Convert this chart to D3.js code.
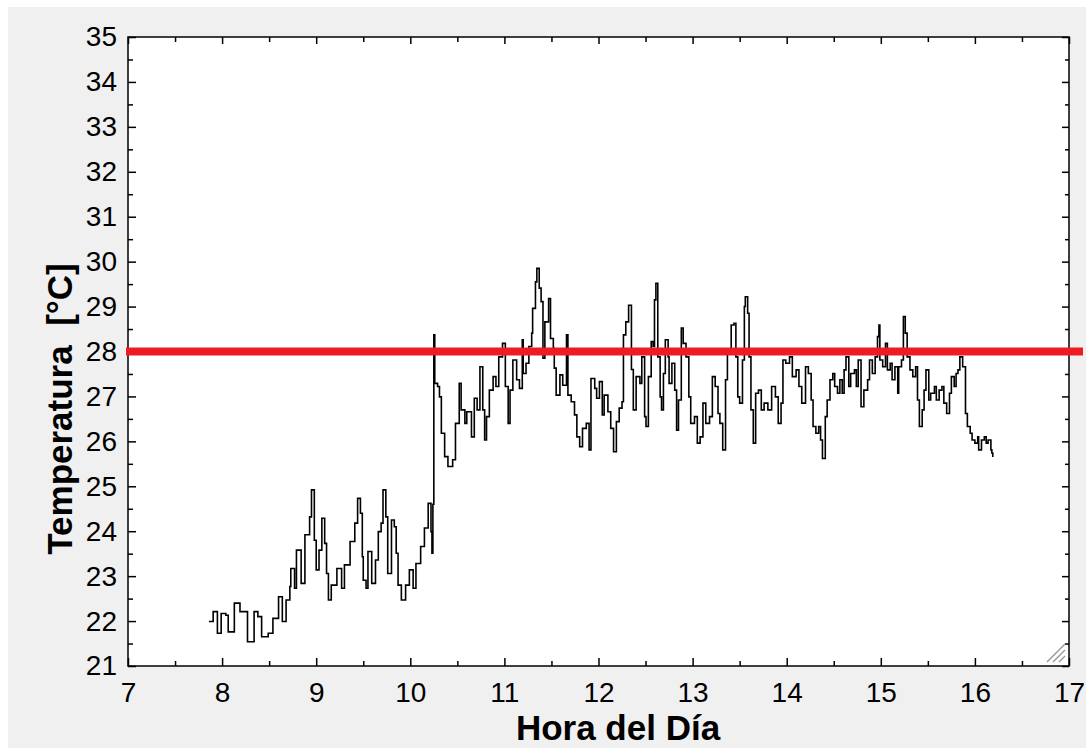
<!DOCTYPE html>
<html>
<head>
<meta charset="utf-8">
<script src="https://cdn.jsdelivr.net/npm/d3@7"></script>
<style>
  body { margin: 0; background: #ffffff; }
  text { font-family: "Liberation Sans", Arial, sans-serif; fill: #000; }
  .axis-title { font-weight: bold; font-size: 35px; white-space: pre; }
  .tick text { font-size: 28px; }
</style>
</head>
<body>
<div class="chart"></div>
<script>
// hour of day (decimal) and temperature readings
var hours = [
  7.86, 7.905, 7.95, 7.99, 8.04, 8.065, 8.13, 8.19, 8.27, 8.34, 8.38, 8.42, 8.49, 8.54, 8.60, 8.64,
  8.68, 8.72, 8.73, 8.77, 8.79, 8.84, 8.88, 8.93, 8.95, 8.98, 9.00, 9.03, 9.06, 9.09, 9.11, 9.13,
  9.16, 9.22, 9.27, 9.30, 9.36, 9.41, 9.44, 9.47, 9.49, 9.50, 9.53, 9.55, 9.59, 9.63, 9.66, 9.69,
  9.71, 9.74, 9.76, 9.80, 9.83, 9.85, 9.87, 9.905, 9.95, 9.99, 10.03, 10.06, 10.11, 10.15, 10.19,
  10.22, 10.23, 10.24, 10.25, 10.26, 10.29, 10.31, 10.33, 10.365, 10.40, 10.45, 10.48, 10.52, 10.54,
  10.58, 10.60, 10.65, 10.68, 10.71, 10.74, 10.77, 10.79, 10.81, 10.84, 10.88, 10.91, 10.94, 10.98,
  11.01, 11.04, 11.06, 11.09, 11.13, 11.16, 11.19, 11.20, 11.23, 11.26, 11.29, 11.30, 11.33, 11.345,
  11.37, 11.39, 11.41, 11.43, 11.47, 11.49, 11.52, 11.53, 11.55, 11.59, 11.62, 11.66, 11.675, 11.71,
  11.745, 11.77, 11.80, 11.83, 11.87, 11.90, 11.92, 11.96, 11.98, 12.01, 12.04, 12.06, 12.10, 12.13,
  12.16, 12.19, 12.22, 12.25, 12.265, 12.29, 12.32, 12.35, 12.37, 12.40, 12.44, 12.46, 12.49, 12.505,
  12.53, 12.56, 12.58, 12.595, 12.61, 12.63, 12.655, 12.67, 12.69, 12.71, 12.74, 12.75, 12.78, 12.81,
  12.83, 12.85, 12.88, 12.90, 12.93, 12.96, 12.98, 13.02, 13.05, 13.08, 13.11, 13.14, 13.18, 13.21,
  13.24, 13.27, 13.29, 13.32, 13.35, 13.37, 13.41, 13.44, 13.46, 13.48, 13.50, 13.53, 13.55, 13.56,
  13.585, 13.60, 13.62, 13.645, 13.67, 13.70, 13.73, 13.76, 13.80, 13.84, 13.88, 13.91, 13.94, 13.96,
  13.99, 14.03, 14.06, 14.10, 14.13, 14.16, 14.20, 14.23, 14.26, 14.28, 14.31, 14.34, 14.36, 14.38,
  14.41, 14.43, 14.46, 14.49, 14.51, 14.54, 14.565, 14.59, 14.61, 14.63, 14.66, 14.68, 14.72, 14.74,
  14.76, 14.79, 14.82, 14.86, 14.88, 14.91, 14.94, 14.965, 14.98, 14.99, 15.02, 15.05, 15.07, 15.10,
  15.12, 15.15, 15.18, 15.19, 15.22, 15.24, 15.26, 15.28, 15.31, 15.34, 15.37, 15.39, 15.41, 15.44,
  15.46, 15.48, 15.51, 15.53, 15.57, 15.59, 15.62, 15.65, 15.67, 15.70, 15.73, 15.75, 15.78, 15.80,
  15.82, 15.84, 15.87, 15.90, 15.92, 15.95, 15.97, 16.00, 16.03, 16.04, 16.07, 16.10, 16.12, 16.14,
  16.17, 16.18, 16.19
];

var temps = [
  21.99, 22.21, 21.73, 22.17, 22.13, 21.76, 22.40, 22.21, 21.54, 22.21, 22.10, 21.65, 21.73, 22.06, 22.54, 21.99,
  22.47, 22.77, 23.17, 22.73, 23.58, 22.84, 23.92, 24.32, 24.92, 23.80, 23.14, 23.58, 24.29, 23.73, 23.06, 22.47,
  22.80, 23.17, 22.73, 23.25, 23.77, 24.18, 24.73, 24.40, 23.43, 22.91, 22.73, 23.55, 22.84, 23.36, 23.99, 24.18,
  24.92, 24.32, 23.06, 24.25, 24.10, 23.51, 22.80, 22.47, 22.80, 23.14, 22.73, 23.28, 23.66, 24.07, 24.62,
  23.99, 23.51, 24.60, 28.37, 27.29, 27.22, 26.99, 26.18, 25.66, 25.44, 25.59, 26.40, 27.29, 26.70,
  26.40, 26.66, 26.10, 26.96, 26.70, 27.66, 26.70, 26.03, 26.55, 27.14, 27.44, 27.22, 27.88, 28.18,
  27.22, 26.40, 27.14, 27.81, 27.37, 27.18, 28.26, 27.51, 27.74, 28.11, 28.41, 28.96, 29.55, 29.85,
  29.41, 29.11, 27.85, 28.66, 29.18, 28.29, 28.07, 27.63, 27.03, 27.48, 27.25, 28.37, 27.03, 26.88,
  26.59, 26.10, 25.88, 26.29, 26.40, 25.81, 27.40, 27.18, 26.96, 27.33, 26.59, 27.03, 26.66, 26.29,
  25.77, 26.44, 26.74, 26.88, 28.37, 28.66, 29.03, 27.60, 26.70, 27.44, 27.29, 27.88, 26.55, 26.33,
  27.44, 28.22, 28.11, 29.15, 29.52, 27.88, 26.99, 26.70, 27.51, 28.26, 27.88, 27.29, 27.74, 27.14,
  26.25, 26.92, 28.52, 28.18, 27.88, 26.99, 26.40, 26.55, 25.96, 26.10, 26.85, 26.40, 26.55, 27.44,
  27.22, 26.62, 26.40, 25.81, 27.37, 28.03, 28.59, 28.63, 27.88, 26.99, 26.85, 27.81, 29.00, 29.22,
  28.85, 27.88, 26.70, 25.96, 27.07, 27.14, 26.70, 26.85, 26.70, 27.22, 26.99, 26.40, 26.85, 27.81,
  27.74, 27.88, 27.44, 27.59, 27.22, 26.85, 27.66, 27.51, 26.92, 26.33, 26.18, 26.33, 26.03, 25.62,
  26.55, 26.92, 27.37, 27.51, 27.22, 27.07, 27.37, 27.07, 27.59, 27.88, 27.22, 27.51, 27.59, 27.22,
  27.81, 26.77, 27.14, 27.37, 27.81, 27.51, 27.88, 28.33, 28.59, 27.81, 27.66, 28.18, 27.59, 27.74,
  27.37, 27.66, 27.07, 27.66, 27.81, 28.78, 28.41, 27.88, 27.59, 27.44, 27.66, 26.92, 26.33, 26.70,
  27.14, 27.59, 26.92, 27.07, 27.22, 26.92, 27.14, 27.22, 26.85, 26.62, 27.07, 27.44, 27.22, 27.51,
  27.59, 27.88, 27.66, 26.62, 26.33, 26.18, 26.03, 25.96, 26.10, 25.81, 26.03, 26.10, 25.96, 26.03,
  25.81, 25.74, 25.65
];

// comfort limit drawn as the red reference line
var limitTemp = [28];

var xTicks = [7, 8, 9, 10, 11, 12, 13, 14, 15, 16, 17];
var yTicks = [21, 22, 23, 24, 25, 26, 27, 28, 29, 30, 31, 32, 33, 34, 35];

var svgWidth = 1086;
var svgHeight = 748;

var margin = { top: 37, right: 17, bottom: 82, left: 128 };
var width = svgWidth - margin.left - margin.right;
var height = svgHeight - margin.top - margin.bottom;

var svg = d3.select(".chart")
  .append("svg")
  .attr("width", svgWidth)
  .attr("height", svgHeight)
  .style("display", "block");

// grey window background, inset a little from the top-left corner
svg.append("rect")
  .attr("x", 8)
  .attr("y", 7)
  .attr("width", svgWidth - 8)
  .attr("height", svgHeight - 7)
  .attr("fill", "#f0f0f0");

var chartGroup = svg.append("g")
  .attr("transform", `translate(${margin.left}, ${margin.top})`);

chartGroup.append("rect")
  .attr("width", width)
  .attr("height", height)
  .attr("fill", "#ffffff");

var xScale = d3.scaleLinear().domain([7, 17]).range([0, width]);
var yScale = d3.scaleLinear().domain([21, 35]).range([height, 0]);

var minorX = d3.range(7.5, 17, 1);
var minorY = d3.range(21.5, 35, 1);

// bottom axis with labels, ticks pointing inward
chartGroup.append("g")
  .attr("class", "x-axis")
  .attr("transform", `translate(0, ${height})`)
  .call(d3.axisBottom(xScale).tickValues(xTicks).tickSize(-8).tickPadding(16).tickFormat(d3.format("d")));

chartGroup.append("g")
  .attr("transform", `translate(0, ${height})`)
  .call(d3.axisBottom(xScale).tickValues(minorX).tickSize(-5).tickFormat(""));

// top axis, ticks only
chartGroup.append("g")
  .call(d3.axisTop(xScale).tickValues(xTicks).tickSize(-7).tickFormat(""));
chartGroup.append("g")
  .call(d3.axisTop(xScale).tickValues(minorX).tickSize(-5).tickFormat(""));

// left axis with labels
chartGroup.append("g")
  .attr("class", "y-axis")
  .call(d3.axisLeft(yScale).tickValues(yTicks).tickSize(-8).tickPadding(11).tickFormat(d3.format("d")));
chartGroup.append("g")
  .call(d3.axisLeft(yScale).tickValues(minorY).tickSize(-5).tickFormat(""));

// right axis, ticks only
chartGroup.append("g")
  .attr("transform", `translate(${width}, 0)`)
  .call(d3.axisRight(yScale).tickValues(yTicks).tickSize(-7).tickFormat(""));
chartGroup.append("g")
  .attr("transform", `translate(${width}, 0)`)
  .call(d3.axisRight(yScale).tickValues(minorY).tickSize(-4).tickFormat(""));

chartGroup.selectAll(".domain").remove();
chartGroup.selectAll(".tick line").attr("stroke", "#000").attr("stroke-width", 1.5);

// frame around the plot area
chartGroup.append("rect")
  .attr("width", width)
  .attr("height", height)
  .attr("fill", "none")
  .attr("stroke", "#000")
  .attr("stroke-width", 1.5);

// temperature trace - the logger output is stepped, so draw it that way
var tempData = hours.map(function (h, i) { return { hour: h, temp: temps[i] }; });

var line = d3.line()
  .curve(d3.curveStepAfter)
  .x(d => xScale(d.hour))
  .y(d => yScale(d.temp));

chartGroup.append("path")
  .datum(tempData)
  .attr("fill", "none")
  .attr("stroke", "#000")
  .attr("stroke-width", 1.6)
  .attr("d", line);

// red limit line, runs slightly past both frame edges
chartGroup.selectAll(".limit")
  .data(limitTemp)
  .enter()
  .append("line")
  .attr("class", "limit")
  .attr("x1", -2)
  .attr("x2", width + 14)
  .attr("y1", d => yScale(d))
  .attr("y2", d => yScale(d))
  .attr("stroke", "#ed1c24")
  .attr("stroke-width", 8);

// little resize grip in the corner
var grip = chartGroup.append("g")
  .attr("transform", `translate(${width - 4}, ${height - 4})`)
  .attr("stroke", "#9a9a9a")
  .attr("stroke-width", 1.5);
[6, 12, 18].forEach(function (s) {
  grip.append("line").attr("x1", -s).attr("y1", 0).attr("x2", 0).attr("y2", -s);
});

// axis titles
svg.append("text")
  .attr("class", "axis-title")
  .attr("x", 618)
  .attr("y", 740)
  .attr("text-anchor", "middle")
  .text("Hora del Día");

svg.append("text")
  .attr("class", "axis-title")
  .attr("transform", "translate(72, 409) rotate(-90)")
  .attr("text-anchor", "middle")
  .text("Temperatura  [°C]");
</script>
</body>
</html>
